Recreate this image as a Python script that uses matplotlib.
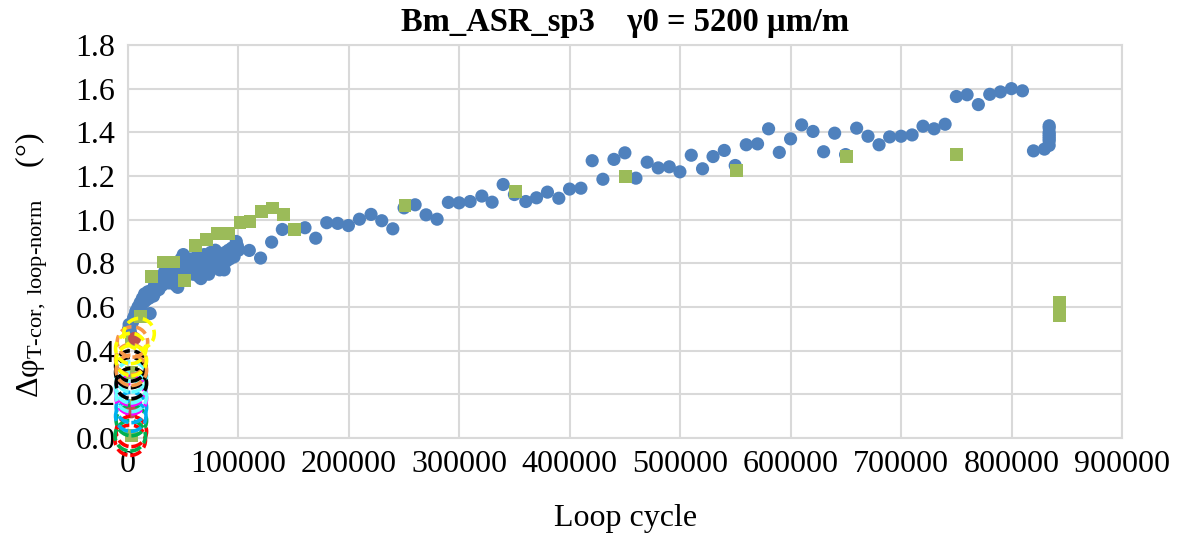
import matplotlib
matplotlib.use("Agg")
import matplotlib.pyplot as plt

# data
# blue circles - loop measurements
blue_x = [500, 1000, 2000, 3000, 4000, 5000, 6000, 7000, 8000, 9000, 10000, 11000, 12000, 13000, 14000,
          15000, 16000, 17000, 18000, 19000, 20000, 21000, 22000, 23000, 24000, 25000, 26000, 27000, 28000,
          29000, 30000, 31000, 32000, 33000, 34000, 35000, 36000, 37000, 38000, 39000, 40000, 41000, 42000,
          43000, 44000, 45000, 46000, 47000, 48000, 49000, 50000, 51000, 52000, 53000, 54000, 55000, 56000,
          57000, 58000, 59000, 60000, 61000, 62000, 63000, 64000, 65000, 66000, 67000, 68000, 69000, 70000,
          71000, 72000, 73000, 74000, 75000, 76000, 77000, 78000, 79000, 80000, 81000, 82000, 83000, 84000,
          85000, 86000, 87000, 88000, 89000, 90000, 91000, 92000, 93000, 94000, 95000, 96000, 97000, 98000,
          99000, 100000,
          109800, 120000, 130000, 139700, 160200, 169900, 179900, 189800, 199500, 209500, 220000, 229700,
          239700, 249900, 259900, 269800, 279800, 290000, 299700, 309700, 320300, 329600, 339600, 349800,
          360100, 369800, 379700, 390000, 399700, 410000, 420200, 429900, 439900, 449800, 459800, 470000,
          480000, 490000, 499600, 509900, 520100, 529600, 539800, 549700, 559700, 569900, 579900, 589600,
          599800, 609800, 620100, 629700, 639700, 649600, 659600, 669900, 679900, 689500, 699800, 709800,
          719700, 729700, 739700, 749900, 759600, 769800, 780100, 789800, 799700, 809700, 819700, 829600,
          833900, 833900, 833900, 833900, 833900, 833900, 833900, 833900]
blue_y = [0.50, 0.52, 0.49, 0.47, 0.53, 0.55, 0.56, 0.58, 0.57, 0.60, 0.59, 0.62, 0.61, 0.64, 0.62,
          0.66, 0.63, 0.65, 0.67, 0.64, 0.57, 0.66, 0.68, 0.65, 0.70, 0.67, 0.69, 0.72, 0.68,
          0.71, 0.74, 0.70, 0.73, 0.76, 0.72, 0.75, 0.78, 0.71, 0.74, 0.77, 0.73, 0.79, 0.75,
          0.70, 0.77, 0.69, 0.80, 0.76, 0.82, 0.78, 0.84, 0.81, 0.77, 0.80, 0.79, 0.76, 0.82,
          0.78, 0.80, 0.75, 0.81, 0.78, 0.83, 0.79, 0.74, 0.80, 0.73, 0.81, 0.77, 0.84, 0.79,
          0.82, 0.76, 0.75, 0.80, 0.85, 0.78, 0.82, 0.80, 0.86, 0.79, 0.83, 0.81, 0.77, 0.84,
          0.80, 0.82, 0.77, 0.85, 0.81, 0.83, 0.86, 0.82, 0.84, 0.87, 0.85, 0.83, 0.86, 0.90,
          0.88, 0.86,
          0.859, 0.824, 0.897, 0.955, 0.963, 0.915, 0.986, 0.983, 0.973, 1.002, 1.024, 0.995,
          0.958, 1.054, 1.068, 1.022, 1.002, 1.079, 1.077, 1.083, 1.108, 1.080, 1.161, 1.115,
          1.083, 1.100, 1.126, 1.098, 1.140, 1.144, 1.270, 1.185, 1.276, 1.306, 1.190, 1.263,
          1.237, 1.242, 1.219, 1.295, 1.233, 1.289, 1.317, 1.248, 1.343, 1.347, 1.416, 1.308,
          1.370, 1.434, 1.404, 1.311, 1.396, 1.298, 1.419, 1.382, 1.343, 1.379, 1.382, 1.388,
          1.428, 1.416, 1.437, 1.564, 1.572, 1.527, 1.574, 1.585, 1.600, 1.590, 1.315, 1.323,
          1.34, 1.36, 1.37, 1.38, 1.39, 1.40, 1.42, 1.43]

# green squares
green_x = [3000, 3000, 3000, 3000, 11400, 21000, 31900, 41000, 51300, 60900, 71200, 80800, 90800,
           101400, 110400, 121000, 131000, 140600, 150500, 250800, 350700, 450100, 550600, 650600,
           750200, 843500, 843500, 843500, 843500]
green_y = [0.01, 0.15, 0.30, 0.45, 0.557, 0.740, 0.806, 0.806, 0.722, 0.882, 0.908, 0.935, 0.935,
           0.986, 0.992, 1.037, 1.053, 1.022, 0.954, 1.065, 1.128, 1.198, 1.225, 1.288,
           1.297, 0.56, 0.58, 0.60, 0.62]

# red filled circles near the origin
red_x = [6000, 3000]
red_y = [0.456, 0.12]

# dashed hollow circles near the origin (one series per colour)
ring_colors = ['#FF0000', '#00B050', '#00B0F0', '#FF00FF', '#66FFFF', '#000000', '#F79646', '#FFFF00']
ring_x = [[2000, 3000], [2000, 3000], [2500, 3000], [3000, 2500], [3000, 2500, 3000],
          [3000, 2500, 2500], [3000, 2500, 4000], [10000, 2500, 3000]]
ring_y = [[-0.01, 0.03], [0.01, 0.08], [0.10, 0.14], [0.18, 0.22], [0.19, 0.23, 0.28],
          [0.25, 0.30, 0.33], [0.31, 0.36, 0.44], [0.478, 0.41, 0.355]]

x_ticks = [0, 100000, 200000, 300000, 400000, 500000, 600000, 700000, 800000, 900000]
y_ticks = [0.0, 0.2, 0.4, 0.6, 0.8, 1.0, 1.2, 1.4, 1.6, 1.8]

plt.rcParams['font.family'] = ['Liberation Serif', 'DejaVu Serif']
plt.rcParams['mathtext.fontset'] = 'custom'
plt.rcParams['mathtext.rm'] = 'Liberation Serif'
plt.rcParams['mathtext.it'] = 'Liberation Serif:italic'

fig = plt.figure(figsize=(11.8, 5.38), dpi=100)
ax = fig.add_subplot(111)
fig.subplots_adjust(left=0.1085, right=0.951, top=0.9164, bottom=0.1859)

grid_col = '#D9D9D9'
ax.grid(True, color=grid_col, linewidth=1.5, zorder=0)
ax.set_axisbelow(True)
for s in ax.spines.values():
    s.set_color(grid_col)
    s.set_linewidth(1.5)

ax.scatter(blue_x, blue_y, s=90, color='#4F81BD', edgecolors='none', zorder=3, clip_on=False)
ax.scatter(green_x, green_y, s=85, marker='s', color='#9BBB59', edgecolors='none', zorder=4, clip_on=False)
ax.scatter(red_x, red_y, s=90, color='#C0504D', edgecolors='none', zorder=4, clip_on=False)
for c, xs, ys in zip(ring_colors, ring_x, ring_y):
    ax.scatter(xs, ys, s=480, facecolors='none', edgecolors=c, linewidths=2.6,
               linestyles=(0, (3.2, 1.3)), zorder=5, clip_on=False)

ax.set_xlim(0, 900000)
ax.set_ylim(0, 1.8)
ax.set_xticks(x_ticks)
ax.set_xticklabels([str(v) for v in x_ticks])
ax.set_yticks(y_ticks)
ax.set_yticklabels(['%.1f' % v for v in y_ticks])
ax.tick_params(length=0, labelsize=23, pad=9)

ax.set_title('Bm_ASR_sp3    \u03b30 = 5200 \u00b5m/m', fontsize=23.5, fontweight='bold', pad=10)
ax.set_xlabel('Loop cycle', fontsize=23, labelpad=18)
ax.set_ylabel(r'$\mathrm{\Delta\varphi_{T\text{-}cor,\ loop\text{-}norm}}$    (°)', fontsize=23)
ax.yaxis.set_label_coords(-0.078, 0.44)

fig.savefig('out.png', dpi=100)
